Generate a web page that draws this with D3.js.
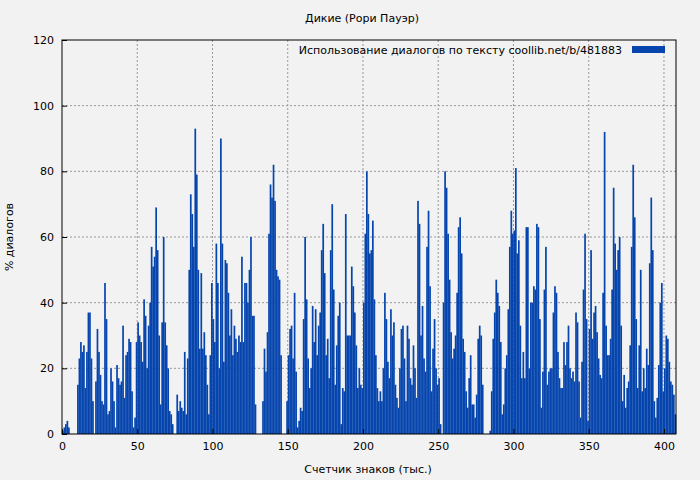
<!DOCTYPE html>
<html><head><meta charset="utf-8">
<script src="https://cdn.jsdelivr.net/npm/d3@7"></script>
<style>body{margin:0;background:#f2f2f2}svg{display:block}</style>
</head><body><svg width="700" height="480"></svg>
<script>
// % диалогов на каждую тысячу знаков (0..407)
var values = [
 1,2,3,4,2,0,0,0,0,0,15,23,28,25,27,14,25,37,37,23,
 10,0,16,32,25,18,10,9,46,35,6,7,20,16,10,2,21,17,15,16,
 33,11,24,25,29,28,13,2,5,28,34,30,28,22,41,36,20,33,40,57,
 51,54,69,56,30,9,34,60,34,27,20,7,6,3,0,0,12,7,10,8,
 7,25,6,23,50,73,67,57,93,79,50,26,49,26,31,24,15,6,24,46,
 35,28,58,46,20,90,58,22,53,52,43,30,38,24,33,29,25,30,28,54,
 28,46,46,40,50,60,36,36,9,0,0,0,0,10,26,19,31,61,76,72,
 82,71,50,48,47,24,0,0,0,10,24,32,33,23,43,19,2,4,8,7,
 35,60,41,23,14,20,39,28,38,24,33,37,56,64,49,24,29,17,56,70,
 44,15,27,36,40,3,14,13,67,30,30,30,51,45,37,27,14,20,15,14,
 40,61,80,67,55,56,65,41,24,14,10,13,10,20,43,35,22,17,38,30,
 34,15,11,8,20,32,33,23,10,33,29,17,15,27,20,11,71,64,30,39,
 23,19,57,68,45,13,26,35,20,15,17,3,0,40,80,75,61,47,31,23,
 26,30,43,63,66,55,29,25,13,8,17,24,9,9,5,12,29,33,30,15,
 0,0,0,0,1,13,29,37,47,43,39,28,6,9,20,24,38,57,68,61,
 62,81,55,59,33,17,25,17,63,63,20,40,40,45,44,64,63,35,8,19,
 44,57,15,19,20,20,37,45,43,25,17,14,14,28,21,28,33,20,17,19,
 16,37,34,16,5,22,44,61,35,4,32,56,29,37,39,31,23,18,17,43,
 92,33,24,24,29,44,75,58,50,56,60,33,10,18,8,14,16,27,57,82,
 66,35,14,27,50,13,20,14,26,21,52,72,56,10,5,11,21,40,46,13,
 20,30,29,22,16,15,12,6
];
var yTicks = [0, 20, 40, 60, 80, 100, 120];
var xTicks = [0, 50, 100, 150, 200, 250, 300, 350, 400];
var title = "Дикие (Рори Пауэр)";
var legendText = "Использование диалогов по тексту  coollib.net/b/481883";

var W = 700, H = 480, m = {l: 62, r: 24, t: 40, b: 46};
var svg = d3.select("svg").style("font-family", "'DejaVu Sans', sans-serif").style("font-size", "11px");
svg.append("rect").attr("width", W).attr("height", H).attr("fill", "#f2f2f2");

var x = d3.scaleLinear().domain([0, 408]).range([m.l, W - m.r]);
var y = d3.scaleLinear().domain([0, 120]).range([H - m.b, m.t]);

// сетка
var g = svg.append("g");
g.selectAll(".gy").data(yTicks.slice(1, -1)).enter().append("line")
  .attr("x1", m.l).attr("x2", W - m.r).attr("y1", d => y(d)).attr("y2", d => y(d))
  .attr("stroke", "#999").attr("stroke-dasharray", "2,2");
g.selectAll(".gx").data(xTicks.slice(1)).enter().append("line")
  .attr("x1", d => x(d)).attr("x2", d => x(d)).attr("y1", m.t).attr("y2", H - m.b)
  .attr("stroke", "#999").attr("stroke-dasharray", "2,2");

// столбцы
var bw = x(1) - x(0);
svg.append("g").selectAll("rect").data(values).enter().append("rect")
  .attr("x", (d, i) => x(i)).attr("width", bw + 0.2)
  .attr("y", d => y(d)).attr("height", d => y(0) - y(d))
  .attr("fill", "#0645ad");

// оси
var ax = svg.append("g").attr("transform", "translate(0," + (H - m.b) + ")")
  .call(d3.axisBottom(x).tickValues(xTicks).tickSize(-5).tickPadding(8));
var ay = svg.append("g").attr("transform", "translate(" + m.l + ",0)")
  .call(d3.axisLeft(y).tickValues(yTicks).tickSize(-5).tickPadding(8));
[ax, ay].forEach(a => { a.select(".domain").remove(); a.selectAll("text").attr("fill", "#000").style("font-family", "'DejaVu Sans', sans-serif").style("font-size", "11px"); });
svg.append("rect").attr("x", m.l).attr("y", m.t).attr("width", W - m.r - m.l).attr("height", H - m.b - m.t)
  .attr("fill", "none").attr("stroke", "#000");

// подписи
svg.append("text").attr("x", 362).attr("y", 22).attr("text-anchor", "middle").text(title);
svg.append("text").attr("x", 368).attr("y", 473).attr("text-anchor", "middle").text("Счетчик знаков (тыс.)");
svg.append("text").attr("transform", "translate(13,237) rotate(-90)").attr("text-anchor", "middle").text("% диалогов");

// легенда
svg.append("text").attr("x", 622).attr("y", 54).attr("text-anchor", "end").text(legendText);
svg.append("rect").attr("x", 632).attr("y", 46).attr("width", 33).attr("height", 7).attr("fill", "#0645ad");
</script></body></html>
